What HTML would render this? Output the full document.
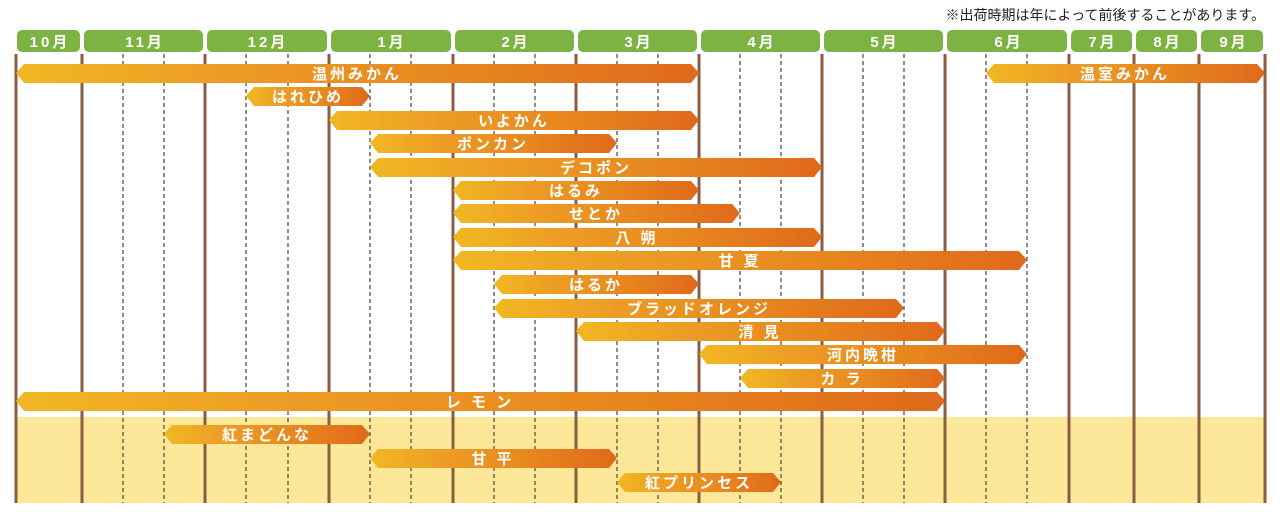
<!DOCTYPE html>
<html><head><meta charset="utf-8"><style>
html,body{margin:0;padding:0;background:#fff;}
svg{display:block}
text{font-family:"Liberation Sans","Noto Sans CJK JP",sans-serif;}
</style></head><body>
<svg width="1280" height="512" viewBox="0 0 1280 512" xmlns="http://www.w3.org/2000/svg">
<defs>
<linearGradient id="g" x1="0" x2="1" y1="0" y2="0">
<stop offset="0" stop-color="#f1b823"/><stop offset="0.3" stop-color="#ec9c25"/><stop offset="0.6" stop-color="#e88a1f"/><stop offset="1" stop-color="#e0691c"/>
</linearGradient>
</defs>
<text x="1265" y="20" text-anchor="end" font-size="14" fill="#222">※出荷時期は年によって前後することがあります。</text>
<rect x="16" y="417" width="1249" height="86" fill="#fde89a"/>
<g fill="#7cb342">
<rect x="17" y="30" width="63" height="22" rx="5"/>
<rect x="84" y="30" width="119" height="22" rx="5"/>
<rect x="207" y="30" width="120" height="22" rx="5"/>
<rect x="331" y="30" width="120" height="22" rx="5"/>
<rect x="455" y="30" width="119" height="22" rx="5"/>
<rect x="578" y="30" width="119" height="22" rx="5"/>
<rect x="701" y="30" width="119" height="22" rx="5"/>
<rect x="824" y="30" width="119" height="22" rx="5"/>
<rect x="947" y="30" width="120" height="22" rx="5"/>
<rect x="1071" y="30" width="61" height="22" rx="5"/>
<rect x="1136" y="30" width="61" height="22" rx="5"/>
<rect x="1201" y="30" width="62" height="22" rx="5"/>
</g>
<g fill="#fff" font-size="15" font-weight="bold" text-anchor="middle" letter-spacing="3">
<text x="50" y="47">10月</text><text x="145" y="47">11月</text><text x="268" y="47">12月</text>
<text x="392" y="47">1月</text><text x="516" y="47">2月</text><text x="639" y="47">3月</text>
<text x="762" y="47">4月</text><text x="885" y="47">5月</text><text x="1009" y="47">6月</text>
<text x="1103" y="47">7月</text><text x="1168" y="47">8月</text><text x="1234" y="47">9月</text>
</g>
<g stroke="#6b4a3a" stroke-width="1.3" stroke-dasharray="4,3">
<line x1="123" y1="54" x2="123" y2="503"/><line x1="164" y1="54" x2="164" y2="503"/>
<line x1="246" y1="54" x2="246" y2="503"/><line x1="288" y1="54" x2="288" y2="503"/>
<line x1="370" y1="54" x2="370" y2="503"/><line x1="411" y1="54" x2="411" y2="503"/>
<line x1="494" y1="54" x2="494" y2="503"/><line x1="535" y1="54" x2="535" y2="503"/>
<line x1="617" y1="54" x2="617" y2="503"/><line x1="658" y1="54" x2="658" y2="503"/>
<line x1="740" y1="54" x2="740" y2="503"/><line x1="781" y1="54" x2="781" y2="503"/>
<line x1="863" y1="54" x2="863" y2="503"/><line x1="904" y1="54" x2="904" y2="503"/>
<line x1="986" y1="54" x2="986" y2="503"/><line x1="1027" y1="54" x2="1027" y2="503"/>
</g>
<g stroke="#8b5e43" stroke-width="3">
<line x1="16" y1="54" x2="16" y2="503"/><line x1="82" y1="54" x2="82" y2="503"/>
<line x1="205" y1="54" x2="205" y2="503"/><line x1="329" y1="54" x2="329" y2="503"/>
<line x1="453" y1="54" x2="453" y2="503"/><line x1="576" y1="54" x2="576" y2="503"/>
<line x1="699" y1="54" x2="699" y2="503"/><line x1="822" y1="54" x2="822" y2="503"/>
<line x1="945" y1="54" x2="945" y2="503"/><line x1="1069" y1="54" x2="1069" y2="503"/>
<line x1="1134" y1="54" x2="1134" y2="503"/><line x1="1199" y1="54" x2="1199" y2="503"/>
<line x1="1265" y1="54" x2="1265" y2="503"/>
</g>
<g fill="url(#g)">
<polygon points="16,73 24,64 691,64 699,73 691,83 24,83"/>
<polygon points="986,73 994,64 1257,64 1265,73 1257,83 994,83"/>
<polygon points="246,96 254,87 362,87 370,96 362,106 254,106"/>
<polygon points="329,120 337,111 691,111 699,120 691,130 337,130"/>
<polygon points="370,143 378,134 609,134 617,143 609,153 378,153"/>
<polygon points="370,167 378,158 814,158 822,167 814,177 378,177"/>
<polygon points="453,190 461,181 691,181 699,190 691,200 461,200"/>
<polygon points="453,213 461,204 732,204 740,213 732,223 461,223"/>
<polygon points="453,237 461,228 814,228 822,237 814,247 461,247"/>
<polygon points="453,260 461,251 1019,251 1027,260 1019,270 461,270"/>
<polygon points="494,284 502,275 691,275 699,284 691,294 502,294"/>
<polygon points="494,308 502,299 896,299 904,308 896,318 502,318"/>
<polygon points="576,331 584,322 937,322 945,331 937,341 584,341"/>
<polygon points="699,354 707,345 1019,345 1027,354 1019,364 707,364"/>
<polygon points="740,378 748,369 937,369 945,378 937,388 748,388"/>
<polygon points="16,401 24,392 937,392 945,401 937,411 24,411"/>
<polygon points="164,434 172,425 362,425 370,434 362,444 172,444"/>
<polygon points="370,458 378,449 609,449 617,458 609,468 378,468"/>
<polygon points="617,482 625,473 773,473 781,482 773,492 625,492"/>
</g>
<g fill="#fff" font-size="15" font-weight="bold" text-anchor="middle" letter-spacing="3">
<text x="357" y="79">温州みかん</text>
<text x="1125" y="79">温室みかん</text>
<text x="308" y="102">はれひめ</text>
<text x="514" y="126">いよかん</text>
<text x="493" y="149">ポンカン</text>
<text x="596" y="173">デコポン</text>
<text x="576" y="196">はるみ</text>
<text x="596" y="219">せとか</text>
<text x="637" y="243">八 朔</text>
<text x="740" y="266">甘 夏</text>
<text x="596" y="290">はるか</text>
<text x="699" y="314">ブラッドオレンジ</text>
<text x="760" y="337">清 見</text>
<text x="863" y="360">河内晩柑</text>
<text x="842" y="384">カ ラ</text>
<text x="480" y="407">レ モ ン</text>
<text x="267" y="440">紅まどんな</text>
<text x="493" y="464">甘 平</text>
<text x="699" y="488">紅プリンセス</text>
</g>
</svg>
</body></html>
